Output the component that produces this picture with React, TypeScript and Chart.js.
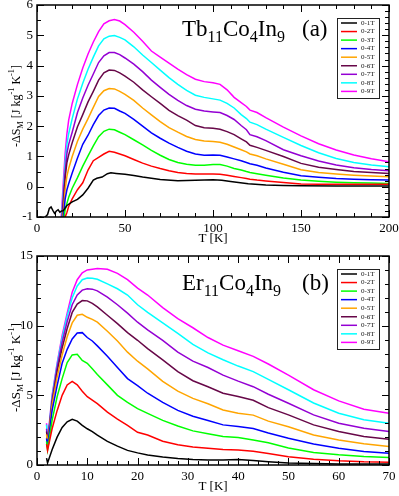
import React, { useEffect, useRef } from "react";
import { Chart, registerables } from "chart.js";

Chart.register(...registerables);

const FIELD_LABELS = ["0-1T", "0-2T", "0-3T", "0-4T", "0-5T", "0-6T", "0-7T", "0-8T", "0-9T"];
const SERIES_COLORS = ["#000000", "#ff0000", "#00ff00", "#0000ff", "#ffa500", "#670748", "#9400d3", "#00ffff", "#ff00ff"];

// ---------- Panel (a): Tb11Co4In9 ----------
const TB_T_BLACK = [0, 2, 4, 6, 7, 8, 9, 10, 11, 12, 13, 14, 15, 17, 20, 23, 26, 29, 32, 34, 37, 40, 42, 45, 50, 55, 60, 65, 70, 80, 90, 100, 105, 110, 120, 130, 140, 150, 170, 200];
const TB_1T = [-1.05, -1.0, -1.04, -0.92, -0.72, -0.67, -0.78, -0.88, -0.8, -0.76, -0.84, -0.8, -0.79, -0.62, -0.5, -0.42, -0.27, -0.05, 0.22, 0.28, 0.32, 0.43, 0.46, 0.44, 0.41, 0.37, 0.32, 0.28, 0.24, 0.2, 0.21, 0.23, 0.21, 0.17, 0.1, 0.06, 0.04, 0.03, 0.02, 0.02];

const TB_T = [13, 14, 15, 16, 17, 18, 20, 23, 26, 29, 32, 35, 38, 41, 44, 47, 50, 55, 60, 65, 70, 75, 80, 85, 90, 95, 100, 104, 108, 112, 116, 119, 121, 125, 130, 140, 150, 160, 170, 180, 190, 200];
const TB_2T = [-3, -2.6, -1.8, -1.0, -0.85, -0.65, -0.4, -0.1, 0.13, 0.55, 0.86, 0.97, 1.08, 1.17, 1.14, 1.08, 1.02, 0.9, 0.78, 0.68, 0.6, 0.53, 0.47, 0.44, 0.42, 0.42, 0.42, 0.41, 0.38, 0.34, 0.3, 0.27, 0.25, 0.22, 0.19, 0.14, 0.09, 0.08, 0.08, 0.08, 0.08, 0.08];
const TB_3T = [-3, -2.4, -1.2, -0.75, -0.55, -0.35, -0.05, 0.3, 0.68, 1.02, 1.35, 1.65, 1.83, 1.9, 1.88, 1.8, 1.72, 1.55, 1.38, 1.2, 1.04, 0.9, 0.8, 0.74, 0.71, 0.71, 0.73, 0.73, 0.68, 0.6, 0.55, 0.5, 0.47, 0.43, 0.38, 0.29, 0.22, 0.18, 0.15, 0.13, 0.12, 0.11];
const TB_4T = [-2.6, -2.0, -1.0, -0.4, -0.1, 0.1, 0.45, 0.95, 1.4, 1.7, 2.05, 2.35, 2.53, 2.6, 2.59, 2.5, 2.42, 2.22, 2.0, 1.78, 1.6, 1.44, 1.3, 1.17, 1.08, 1.04, 1.05, 1.04, 0.98, 0.92, 0.86, 0.8, 0.76, 0.71, 0.62, 0.48, 0.36, 0.31, 0.27, 0.25, 0.23, 0.22];
const TB_5T = [-2.4, -1.6, -0.8, -0.1, 0.35, 0.6, 1.0, 1.5, 1.9, 2.25, 2.62, 2.98, 3.17, 3.24, 3.23, 3.15, 3.05, 2.85, 2.6, 2.37, 2.15, 1.95, 1.8, 1.66, 1.56, 1.51, 1.49, 1.47, 1.4, 1.31, 1.22, 1.15, 1.08, 1.02, 0.92, 0.74, 0.56, 0.47, 0.42, 0.38, 0.35, 0.33];
const TB_6T = [-2.2, -1.4, -0.5, 0.3, 0.8, 1.05, 1.45, 1.98, 2.38, 2.8, 3.15, 3.52, 3.76, 3.85, 3.84, 3.76, 3.65, 3.45, 3.2, 2.97, 2.75, 2.52, 2.35, 2.2, 2.02, 1.95, 1.93, 1.9, 1.82, 1.72, 1.58, 1.48, 1.37, 1.3, 1.2, 1.0, 0.77, 0.64, 0.57, 0.5, 0.47, 0.44];
const TB_7T = [-2.0, -1.2, -0.3, 0.5, 1.1, 1.4, 1.8, 2.45, 2.93, 3.35, 3.72, 4.1, 4.32, 4.43, 4.43, 4.36, 4.25, 4.05, 3.8, 3.52, 3.28, 3.05, 2.85, 2.68, 2.56, 2.5, 2.47, 2.45, 2.35, 2.22, 2.02, 1.88, 1.72, 1.65, 1.52, 1.22, 1.02, 0.85, 0.72, 0.63, 0.57, 0.53];
const TB_8T = [-1.8, -1.0, -0.1, 0.8, 1.4, 1.75, 2.25, 2.9, 3.42, 3.88, 4.28, 4.65, 4.88, 4.97, 4.99, 4.93, 4.85, 4.62, 4.35, 4.1, 3.85, 3.6, 3.38, 3.18, 3.02, 2.95, 2.9, 2.86, 2.75, 2.6, 2.38, 2.25, 2.13, 2.05, 1.9, 1.63, 1.36, 1.12, 0.93, 0.8, 0.72, 0.66];
const TB_9T = [-1.6, -0.8, 0.2, 1.1, 1.75, 2.2, 2.75, 3.38, 3.92, 4.38, 4.78, 5.12, 5.38, 5.48, 5.52, 5.47, 5.35, 5.1, 4.8, 4.48, 4.28, 4.08, 3.88, 3.7, 3.55, 3.47, 3.43, 3.38, 3.2, 2.95, 2.78, 2.65, 2.53, 2.45, 2.28, 1.97, 1.68, 1.42, 1.21, 1.05, 0.92, 0.82];

// ---------- Panel (b): Er11Co4In9 ----------
const ER_T = [1.9, 2.1, 3, 4, 5, 6, 7, 8, 9, 10, 11, 12, 14, 16, 18, 20, 22, 25, 28, 31, 34, 37, 40, 43, 46, 50, 55, 60, 65, 70];
const ER_1T = [0.5, 0.15, 1.1, 2.0, 2.7, 3.1, 3.28, 3.15, 2.85, 2.6, 2.4, 2.15, 1.7, 1.35, 1.05, 0.87, 0.72, 0.58, 0.47, 0.4, 0.36, 0.36, 0.4, 0.33, 0.24, 0.14, 0.1, 0.08, 0.07, 0.07];
const ER_2T = [1.5, 1.05, 2.6, 3.9, 5.0, 5.75, 6.0, 5.75, 5.3, 4.9, 4.65, 4.4, 3.8, 3.3, 2.85, 2.35, 2.15, 1.7, 1.46, 1.3, 1.2, 1.12, 1.08, 0.98, 0.82, 0.6, 0.42, 0.3, 0.23, 0.2];
const ER_3T = [1.7, 1.1, 3.2, 4.9, 6.2, 7.35, 7.9, 7.95, 7.5, 7.3, 6.9, 6.5, 5.75, 5.0, 4.5, 4.05, 3.7, 3.2, 2.8, 2.45, 2.25, 2.05, 1.98, 1.8, 1.6, 1.22, 0.9, 0.73, 0.61, 0.54];
const ER_4T = [1.9, 1.35, 3.9, 5.7, 7.3, 8.3, 9.05, 9.48, 9.5, 9.15, 8.9, 8.55, 7.8, 7.0, 6.2, 5.7, 5.15, 4.5, 3.92, 3.5, 3.2, 2.88, 2.76, 2.62, 2.3, 1.92, 1.5, 1.2, 0.97, 0.85];
const ER_5T = [2.2, 1.45, 4.3, 6.3, 7.9, 9.2, 10.2, 10.75, 10.82, 10.6, 10.45, 10.25, 9.6, 8.9, 8.1, 7.45, 6.9, 6.0, 5.3, 4.78, 4.4, 3.95, 3.72, 3.58, 3.15, 2.75, 2.15, 1.8, 1.52, 1.33];
const ER_6T = [2.4, 1.5, 4.5, 6.7, 8.4, 9.8, 10.95, 11.55, 11.8, 11.78, 11.6, 11.35, 10.75, 10.15, 9.5, 8.95, 8.35, 7.55, 6.7, 6.05, 5.62, 5.15, 4.92, 4.65, 4.12, 3.6, 2.88, 2.4, 2.04, 1.85];
const ER_7T = [2.6, 1.55, 4.7, 7.0, 8.8, 10.3, 11.5, 12.2, 12.55, 12.65, 12.62, 12.5, 12.05, 11.5, 10.9, 10.25, 9.7, 8.95, 8.1, 7.45, 7.0, 6.45, 6.02, 5.62, 5.08, 4.43, 3.6, 3.0, 2.63, 2.4];
const ER_8T = [2.9, 1.6, 4.9, 7.2, 9.1, 10.7, 12.0, 12.85, 13.3, 13.42, 13.4, 13.33, 13.0, 12.65, 12.2, 11.5, 10.95, 10.2, 9.45, 8.65, 8.05, 7.55, 7.1, 6.7, 6.15, 5.4, 4.45, 3.72, 3.25, 3.0];
const ER_9T = [3.0, 1.7, 5.0, 7.3, 9.3, 10.9, 12.4, 13.3, 13.8, 14.0, 14.05, 14.1, 14.05, 13.75, 13.3, 12.7, 12.2, 11.3, 10.5, 9.85, 9.15, 8.6, 8.2, 7.8, 7.25, 6.45, 5.4, 4.6, 4.0, 3.72];

const SERIF = "'Liberation Serif', 'Times New Roman', Times, serif";

type Seg = { t: string; size: number; dy: number };

interface PanelCfg {
  canvasH: number;
  padTop: number;
  xAxisH: number;
  xMin: number; xMax: number; xStep: number; xMinor: number;
  yMin: number; yMax: number; yStep: number; yMinorLeft: number; yMinorRight: number;
  series: { x: number[]; y: number[] }[];
  compound: string;
  tag: string;
  titleDy: number;
  yTitleSize: number;
  yTitleDy: number;
  legendTop: number;
}

const PANEL_A: PanelCfg = {
  canvasH: 246, padTop: 5, xAxisH: 29,
  xMin: 0, xMax: 200, xStep: 50, xMinor: 10,
  yMin: -1, yMax: 6, yStep: 1, yMinorLeft: 0.5, yMinorRight: 0.2,
  series: [
    { x: TB_T_BLACK, y: TB_1T }, { x: TB_T, y: TB_2T }, { x: TB_T, y: TB_3T },
    { x: TB_T, y: TB_4T }, { x: TB_T, y: TB_5T }, { x: TB_T, y: TB_6T },
    { x: TB_T, y: TB_7T }, { x: TB_T, y: TB_8T }, { x: TB_T, y: TB_9T },
  ],
  compound: "Tb", tag: "(a)", titleDy: 31, yTitleSize: 12, yTitleDy: -5, legendTop: 13,
};

const PANEL_B: PanelCfg = {
  canvasH: 250, padTop: 10, xAxisH: 31,
  xMin: 0, xMax: 70, xStep: 10, xMinor: 2,
  yMin: 0, yMax: 15, yStep: 5, yMinorLeft: 1, yMinorRight: 1,
  series: [
    { x: ER_T, y: ER_1T }, { x: ER_T, y: ER_2T }, { x: ER_T, y: ER_3T },
    { x: ER_T, y: ER_4T }, { x: ER_T, y: ER_5T }, { x: ER_T, y: ER_6T },
    { x: ER_T, y: ER_7T }, { x: ER_T, y: ER_8T }, { x: ER_T, y: ER_9T },
  ],
  compound: "Er", tag: "(b)", titleDy: 34, yTitleSize: 13, yTitleDy: 7, legendTop: 13,
};

function drawRich(ctx: CanvasRenderingContext2D, segs: Seg[], x: number, y: number) {
  let cx = x;
  for (const s of segs) {
    ctx.font = `${s.size}px ${SERIF}`;
    ctx.fillText(s.t, cx, y + s.dy);
    cx += ctx.measureText(s.t).width;
  }
  return cx - x;
}

function richWidth(ctx: CanvasRenderingContext2D, segs: Seg[]) {
  let w = 0;
  for (const s of segs) {
    ctx.font = `${s.size}px ${SERIF}`;
    w += ctx.measureText(s.t).width;
  }
  return w;
}

function isMultiple(v: number, step: number) {
  const r = v / step;
  return Math.abs(r - Math.round(r)) < 1e-6;
}

function makeDecor(cfg: PanelCfg) {
  return {
    id: "decor",
    afterDraw(chart: any) {
      const ctx: CanvasRenderingContext2D = chart.ctx;
      const { left, right, top, bottom } = chart.chartArea;
      const xs = chart.scales.x;
      const ys = chart.scales.y;
      ctx.save();
      ctx.strokeStyle = "#000";
      ctx.lineWidth = 1;
      const seg = (x1: number, y1: number, x2: number, y2: number) => {
        ctx.beginPath();
        ctx.moveTo(x1, y1);
        ctx.lineTo(x2, y2);
        ctx.stroke();
      };
      // x ticks (bottom and top, pointing inward)
      const nx = Math.round((cfg.xMax - cfg.xMin) / cfg.xMinor);
      for (let i = 0; i <= nx; i++) {
        const v = cfg.xMin + i * cfg.xMinor;
        const px = Math.round(xs.getPixelForValue(v)) + 0.5;
        const L = isMultiple(v, cfg.xStep) ? 7 : 4;
        seg(px, bottom, px, bottom - L);
        seg(px, top, px, top + L);
      }
      // y ticks left
      const nyl = Math.round((cfg.yMax - cfg.yMin) / cfg.yMinorLeft);
      for (let i = 0; i <= nyl; i++) {
        const v = cfg.yMin + i * cfg.yMinorLeft;
        const py = Math.round(ys.getPixelForValue(v)) + 0.5;
        const L = isMultiple(v, cfg.yStep) ? 7 : 4;
        seg(left, py, left + L, py);
      }
      // y ticks right
      const nyr = Math.round((cfg.yMax - cfg.yMin) / cfg.yMinorRight);
      for (let i = 0; i <= nyr; i++) {
        const v = cfg.yMin + i * cfg.yMinorRight;
        const py = Math.round(ys.getPixelForValue(v)) + 0.5;
        const L = isMultiple(v, cfg.yStep) ? 7 : 4;
        seg(right, py, right - L, py);
      }
      // frame
      ctx.lineWidth = 1.5;
      ctx.strokeRect(left, top, right - left, bottom - top);

      ctx.fillStyle = "#000";
      ctx.textBaseline = "alphabetic";
      ctx.textAlign = "left";

      // x axis title
      ctx.font = `13px ${SERIF}`;
      ctx.textAlign = "center";
      ctx.textBaseline = "middle";
      ctx.fillText("T [K]", (left + right) / 2, bottom + 22);

      // y axis title (rotated, with sub/superscripts)
      const s = cfg.yTitleSize;
      const ySegs: Seg[] = [
        { t: "-ΔS", size: s, dy: 0 },
        { t: "M", size: s * 0.7, dy: s * 0.3 },
        { t: " [J kg", size: s, dy: 0 },
        { t: "-1", size: s * 0.7, dy: -s * 0.45 },
        { t: " K", size: s, dy: 0 },
        { t: "-1", size: s * 0.7, dy: -s * 0.45 },
        { t: "]", size: s, dy: 0 },
      ];
      ctx.textAlign = "left";
      ctx.textBaseline = "alphabetic";
      ctx.save();
      ctx.translate(19.5, (top + bottom) / 2 + cfg.yTitleDy);
      ctx.rotate(-Math.PI / 2);
      const w = richWidth(ctx, ySegs);
      drawRich(ctx, ySegs, -w / 2, 0);
      ctx.restore();

      // compound title
      const big = 23;
      const sub = 16;
      const tSegs: Seg[] = [
        { t: cfg.compound, size: big, dy: 0 },
        { t: "11", size: sub, dy: 6 },
        { t: "Co", size: big, dy: 0 },
        { t: "4", size: sub, dy: 6 },
        { t: "In", size: big, dy: 0 },
        { t: "9", size: sub, dy: 6 },
      ];
      drawRich(ctx, tSegs, left + 145, top + cfg.titleDy);
      ctx.font = `${big}px ${SERIF}`;
      ctx.fillText(cfg.tag, left + 265, top + cfg.titleDy);

      // legend
      const bx = right - 52;
      const by = top + cfg.legendTop;
      const bw = 42;
      const bh = 80;
      ctx.fillStyle = "#fff";
      ctx.fillRect(bx, by, bw, bh);
      ctx.strokeStyle = "#222";
      ctx.lineWidth = 1;
      ctx.strokeRect(bx + 0.5, by + 0.5, bw, bh);
      ctx.font = `7px ${SERIF}`;
      ctx.textBaseline = "middle";
      ctx.textAlign = "left";
      for (let i = 0; i < FIELD_LABELS.length; i++) {
        const ly = by + 5 + i * 8.55;
        ctx.strokeStyle = SERIES_COLORS[i];
        ctx.lineWidth = 1.5;
        seg(bx + 4, ly, bx + 20, ly);
        ctx.fillStyle = "#111";
        ctx.fillText(FIELD_LABELS[i], bx + 24, ly);
      }
      ctx.restore();
    },
  };
}

function Panel({ cfg }: { cfg: PanelCfg }) {
  const ref = useRef<HTMLCanvasElement | null>(null);
  useEffect(() => {
    if (!ref.current) return;
    const datasets = cfg.series.map((s, i) => ({
      label: FIELD_LABELS[i],
      data: s.x.map((x, j) => ({ x, y: s.y[j] })),
      borderColor: SERIES_COLORS[i],
      backgroundColor: SERIES_COLORS[i],
      borderWidth: 1.5,
      pointRadius: 0,
      fill: false,
      tension: 0,
    }));
    const tickFont = { family: SERIF, size: 13 };
    const chart = new Chart(ref.current, {
      type: "line",
      data: { datasets },
      options: {
        responsive: false,
        animation: false,
        events: [],
        layout: { padding: { left: 0, right: 10, top: cfg.padTop, bottom: 0 } },
        plugins: { legend: { display: false }, tooltip: { enabled: false } },
        scales: {
          x: {
            type: "linear",
            min: cfg.xMin,
            max: cfg.xMax,
            ticks: { stepSize: cfg.xStep, color: "#000", font: tickFont, padding: 4, maxRotation: 0, autoSkip: false },
            grid: { display: false, drawTicks: false },
            border: { display: false },
            afterFit: (sc: any) => {
              sc.height = cfg.xAxisH;
              sc.paddingLeft = 0;
              sc.paddingRight = 0;
            },
          },
          y: {
            type: "linear",
            min: cfg.yMin,
            max: cfg.yMax,
            ticks: { stepSize: cfg.yStep, color: "#000", font: tickFont, padding: 4, autoSkip: false },
            grid: { display: false, drawTicks: false },
            border: { display: false },
            afterFit: (sc: any) => {
              sc.width = 37;
              sc.paddingTop = 0;
              sc.paddingBottom = 0;
            },
          },
        },
      } as any,
      plugins: [makeDecor(cfg)],
    });
    return () => chart.destroy();
  }, [cfg]);
  return <canvas ref={ref} width={399} height={cfg.canvasH} style={{ display: "block", width: 399, height: cfg.canvasH }} />;
}

export default function App() {
  return (
    <div style={{ position: "absolute", left: 0, top: 0, width: 399, height: 496, background: "#fff" }}>
      <Panel cfg={PANEL_A} />
      <Panel cfg={PANEL_B} />
    </div>
  );
}
